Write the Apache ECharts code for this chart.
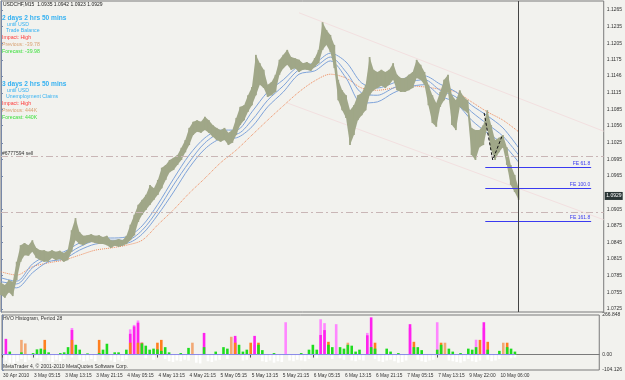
<!DOCTYPE html>
<html><head><meta charset="utf-8">
<script src="https://cdn.jsdelivr.net/npm/echarts@6/dist/echarts.min.js"></script>
<style>html,body{margin:0;padding:0;background:#f2f2ee;}#c{width:625px;height:380px;}</style>
</head><body><div id="c"></div><script>
// ---- data ----
const xLabels = ['30 Apr 2010','3 May 05:15','3 May 13:15','3 May 21:15','4 May 05:15','4 May 13:15','4 May 21:15','5 May 05:15','5 May 13:15','5 May 21:15','6 May 05:15','6 May 13:15','6 May 21:15','7 May 05:15','7 May 13:15','9 May 22:00','10 May 06:00'];
const priceTickLabels = ['1.1265','1.1235','1.1205','1.1175','1.1146','1.1115','1.1085','1.1056','1.1025','1.0995','1.0965','1.0905','1.0875','1.0845','1.0815','1.0785','1.0755','1.0725'];
const hvoTickValues = [266.848, 0, -104.126];
const hvoTickLabels = ['266.848', '0.00', '-104.126'];

const barHigh = [1.0772,1.0768,1.0777,1.0774,1.0810,1.0840,1.0844,1.0840,1.0849,1.0835,
1.0831,1.0831,1.0828,1.0831,1.0828,1.0830,1.0826,1.0831,1.0867,1.0889,
1.0864,1.0857,1.0858,1.0860,1.0857,1.0858,1.0855,1.0857,1.0849,1.0849,
1.0851,1.0849,1.0857,1.0877,1.0895,1.0913,1.0922,1.0931,1.0949,1.0943,
1.0958,1.0980,1.0985,1.0994,1.0998,1.1003,1.1016,1.1030,1.1052,1.1063,
1.1066,1.1063,1.1072,1.1066,1.1057,1.1052,1.1048,1.1052,1.1043,1.1048,
1.1070,1.1090,1.1093,1.1111,1.1126,1.1184,1.1169,1.1157,1.1130,1.1135,
1.1148,1.1175,1.1184,1.1193,1.1180,1.1178,1.1175,1.1169,1.1171,1.1167,
1.1178,1.1193,1.1243,1.1229,1.1220,1.1202,1.1139,1.1120,1.1111,1.1084,
1.1093,1.1111,1.1115,1.1130,1.1180,1.1157,1.1153,1.1157,1.1153,1.1157,
1.1169,1.1148,1.1142,1.1142,1.1148,1.1153,1.1175,1.1166,1.1153,1.1130,
1.1111,1.1097,1.1117,1.1139,1.1148,1.1111,1.1102,1.1120,1.1108,1.1102,
1.1052,1.1048,1.1048,1.1057,1.1084,1.1057,1.1030,1.1034,1.1039,1.1017,
1.0985,1.0967,1.0943];
const barLow = [1.0750,1.0745,1.0755,1.0748,1.0777,1.0810,1.0822,1.0821,1.0828,1.0817,
1.0813,1.0810,1.0810,1.0817,1.0813,1.0815,1.0810,1.0813,1.0828,1.0849,
1.0842,1.0840,1.0844,1.0846,1.0844,1.0842,1.0842,1.0840,1.0835,1.0839,
1.0837,1.0839,1.0842,1.0849,1.0858,1.0882,1.0895,1.0904,1.0913,1.0922,
1.0931,1.0943,1.0958,1.0972,1.0976,1.0985,1.0994,1.1008,1.1021,1.1039,
1.1045,1.1043,1.1048,1.1043,1.1036,1.1030,1.1027,1.1030,1.1021,1.1025,
1.1039,1.1057,1.1066,1.1081,1.1093,1.1111,1.1130,1.1124,1.1108,1.1111,
1.1117,1.1148,1.1160,1.1166,1.1157,1.1160,1.1153,1.1157,1.1157,1.1155,
1.1162,1.1169,1.1193,1.1202,1.1189,1.1160,1.1102,1.1084,1.1070,1.1021,
1.1039,1.1066,1.1075,1.1084,1.1111,1.1120,1.1124,1.1128,1.1124,1.1130,
1.1139,1.1120,1.1117,1.1117,1.1120,1.1124,1.1142,1.1139,1.1130,1.1093,
1.1061,1.1054,1.1090,1.1102,1.1117,1.1057,1.1048,1.1090,1.1084,1.1079,
1.1003,1.0994,1.1017,1.1021,1.1052,1.1012,1.0994,1.1008,1.1017,1.0985,
1.0949,1.0936,1.0922];

const maFast = [1.0781,1.0775,1.0806,1.0822,1.0828,1.0844,1.0853,1.0853,1.0855,1.0875,1.0914,1.0960,1.1003,1.1034,1.1048,1.1048,1.1081,1.1117,1.1139,1.1164,1.1169,1.1187,1.1171,1.1133,1.1124,1.1133,1.1144,1.1146,1.1131,1.1117,1.1093,1.1074,1.1052,1.1016];
const maMid = [1.0774,1.0770,1.0799,1.0817,1.0821,1.0837,1.0848,1.0849,1.0849,1.0867,1.0904,1.0949,1.0990,1.1025,1.1041,1.1041,1.1066,1.1102,1.1128,1.1157,1.1162,1.1180,1.1153,1.1115,1.1111,1.1124,1.1135,1.1139,1.1120,1.1108,1.1081,1.1059,1.1037,1.1003];
const maSlow = [1.0766,1.0763,1.0790,1.0810,1.0815,1.0831,1.0842,1.0844,1.0844,1.0860,1.0895,1.0936,1.0980,1.1014,1.1032,1.1034,1.1054,1.1090,1.1117,1.1149,1.1155,1.1173,1.1142,1.1097,1.1099,1.1115,1.1126,1.1130,1.1110,1.1097,1.1066,1.1043,1.1023,1.0990];
const maOrange = [1.0792,1.0786,1.0801,1.0808,1.0813,1.0822,1.0831,1.0835,1.0840,1.0849,1.0877,1.0904,1.0934,1.0961,1.0989,1.1012,1.1039,1.1066,1.1092,1.1117,1.1137,1.1149,1.1142,1.1124,1.1120,1.1124,1.1128,1.1126,1.1122,1.1117,1.1099,1.1081,1.1066,1.1045];

const channelUpper = [[76, 1.1260], [153.7, 1.1046]];
const channelLower = [[73, 1.1097], [153.7, 1.0886]];
const zigzag = [[123.2, 1.1079], [125.4, 1.0994], [127.7, 1.1036]];
const orderLevels = [1.0981, 1.0884];
const feLevels = [1.0981, 1.0943, 1.0884];
const feNames = ['FE 61.8', 'FE 100.0', 'FE 161.8'];
const feStart = 123.5, feEnd = 150.5;
const lastPrice = 1.0929;
const lastBarIdx = 132;

const hvoGreen = [[2,20],[5,15],[8,10],[9,35],[10,40],[11,33],[12,15],[15,10],[16,15],[17,50],[19,66],[20,33],[22,8],[25,10],[26,33],[27,73],[29,15],[30,15],[32,33],[36,75],[37,60],[38,33],[39,40],[40,35],[41,25],[42,50],[43,15],[46,10],[48,45],[52,50],[55,20],[57,50],[58,40],[61,66],[62,20],[63,33],[66,66],[67,30],[70,10],[77,10],[79,33],[80,66],[81,33],[84,66],[85,50],[87,50],[88,40],[89,66],[90,60],[91,20],[92,33],[95,50],[96,40],[99,40],[100,20],[102,10],[106,50],[107,50],[108,30],[112,33],[113,66],[115,40],[116,20],[118,10],[120,40],[121,33],[122,50],[125,33],[128,25],[130,50],[131,40],[132,20]];
const hvoOrange = [[11,99],[18,99],[25,99],[33,80],[35,80],[36,80],[40,80],[41,99],[60,80],[64,80],[66,80],[84,86],[96,80],[106,86],[113,80],[123,99],[125,86],[130,80]];
const hvoLightOrange = [[5,99],[6,75],[49,80],[59,120],[89,80],[114,80],[129,80]];
const hvoMagenta = [[1,106],[18,166],[33,140],[34,190],[35,215],[36,80],[52,146],[60,126],[65,126],[82,132],[83,165],[94,130],[95,251],[105,205],[124,218]];
const hvoLightMagenta = [[18,179],[33,170],[34,200],[35,230],[60,110],[65,66],[73,218],[82,238],[83,212],[86,205],[94,146],[105,180],[112,218],[122,100],[124,180]];
const hvoWhite = [[1,-40],[2,-55],[3,-60],[4,-45],[5,-30],[6,-50],[7,-35],[9,-25],[10,-45],[12,-40],[13,-50],[14,-35],[15,-45],[16,-30],[18,-20],[20,-35],[21,-45],[22,-40],[23,-30],[24,-45],[26,-35],[28,-40],[29,-50],[30,-35],[31,-45],[32,-30],[37,-25],[39,-35],[42,-30],[43,-45],[44,-50],[45,-40],[46,-45],[47,-35],[48,-40],[50,-55],[51,-60],[53,-45],[54,-50],[55,-40],[56,-35],[58,-30],[62,-40],[63,-35],[67,-45],[68,-50],[69,-40],[70,-55],[71,-45],[72,-50],[74,-40],[75,-45],[76,-35],[77,-40],[78,-45],[79,-30],[81,-25],[85,-30],[87,-25],[88,-35],[90,-40],[91,-45],[92,-35],[93,-40],[96,-30],[97,-45],[98,-50],[99,-40],[100,-35],[101,-45],[102,-55],[103,-50],[104,-40],[107,-35],[108,-45],[109,-50],[110,-40],[111,-35],[115,-40],[116,-45],[117,-50],[118,-55],[119,-45],[120,-30],[121,-45],[122,-50],[123,-40],[125,-35],[126,-45],[127,-40],[128,-30],[131,-25],[132,-20]];

const headerText = 'USDCHF,M15  1.0935 1.0942 1.0923 1.0929';
const newsBlocks = [
  ['2 days 2 hrs 50 mins', 'until USD', 'Trade Balance', 'Impact: High', 'Previous: -39.78', 'Forecast: -39.98'],
  ['3 days 2 hrs 50 mins', 'until USD', 'Unemployment Claims', 'Impact: High', 'Previous: 444K', 'Forecast: 440K']
];

// ---- chart ----
const FONT = '"Liberation Sans", Arial, sans-serif';
const xIdxMax = 153.7;
const xLabelIdx = xLabels.map((_, k) => k * 8);
const maIdx = maMid.map((_, k) => k * 4);
const toPairs = arr => arr.map((v, k) => [maIdx[k], v]);

const chart = echarts.init(document.getElementById('c'), null, {renderer: 'canvas'});

const candleData = barHigh.map((h, i) => [i, barLow[i], h]);
const BAR_COLOR = '#a0a788';

function maSeries(arr, color, type) {
  return {type: 'line', xAxisIndex: 0, yAxisIndex: 0, data: toPairs(arr), symbol: 'none', smooth: 0.3,
    lineStyle: {color: color, width: 1, type: type || 'solid'}, silent: true, z: 3};
}
function hvoSeries(arr, color, z) {
  return {type: 'bar', xAxisIndex: 1, yAxisIndex: 1, data: arr, barWidth: 2.6, barGap: '-100%',
    itemStyle: {color: color}, silent: true, z: z};
}

const graphics = [];
graphics.push({type: 'text', x: 3, y: 5, style: {text: headerText, fill: '#222', font: '5px ' + FONT, textVerticalAlign: 'middle'}});
const blockY = [18, 84];
const lineDy = [0, 6.5, 12.5, 19.5, 26.5, 33.5];
const lineColors = ['#36b2f2', '#36b2f2', '#36b2f2', '#ff3a3a', '#d9a274', '#3ee03e'];
const lineX = [2, 7, 6, 2, 2, 2];
newsBlocks.forEach((blk, b) => {
  blk.forEach((t, j) => {
    graphics.push({type: 'text', x: lineX[j], y: blockY[b] + lineDy[j], style: {
      text: t, fill: lineColors[j], textVerticalAlign: 'middle',
      font: j === 0 ? 'bold 6.6px ' + FONT : '5.2px ' + FONT}});
  });
});
graphics.push({type: 'text', x: 3, y: 319, style: {text: 'HVO Histogram, Period 28', fill: '#333', font: '5px ' + FONT, textVerticalAlign: 'middle'}});
graphics.push({type: 'text', x: 3, y: 367, style: {text: 'MetaTrader 4, \u00a9 2001-2010 MetaQuotes Software Corp.', fill: '#333', font: '5px ' + FONT, textVerticalAlign: 'middle'}});

const levelLines = [];
orderLevels.forEach((v, k) => {
  levelLines.push({yAxis: v, lineStyle: {color: '#c9b6b6', type: [7, 3, 2, 3], width: 1},
    label: k === 0 ? {show: true, position: 'insideStartTop', formatter: '#6777594 sell', color: '#333', fontSize: 5, fontFamily: FONT, distance: 1} : {show: false}});
});
feLevels.forEach((v, k) => {
  levelLines.push([{coord: [feStart, v]}, {coord: [feEnd, v],
    lineStyle: {color: '#3a3af0', width: 1, type: 'solid'},
    label: {show: true, position: 'insideEndTop', formatter: feNames[k], color: '#3a3af0', fontSize: 5, fontFamily: FONT, distance: 1}}]);
});
levelLines.push({xAxis: lastBarIdx, lineStyle: {color: '#444', width: 1, type: 'solid'}, label: {show: false}});

const option = {
  backgroundColor: '#f2f2ee',
  animation: false,
  graphic: graphics,
  grid: [
    {left: 1, right: 20, top: 1, height: 311, show: true, borderColor: '#7a7a7a', borderWidth: 1, backgroundColor: 'transparent'},
    {left: 1, right: 20, top: 315, height: 55, show: true, borderColor: '#7a7a7a', borderWidth: 1, backgroundColor: 'transparent'}
  ],
  xAxis: [
    {type: 'value', gridIndex: 0, min: 0, max: xIdxMax, axisLine: {show: false}, axisTick: {show: false}, axisLabel: {show: false}, splitLine: {show: false}},
    {type: 'value', gridIndex: 1, min: 0, max: xIdxMax, axisLine: {show: true, lineStyle: {color: '#7a7a7a'}},
      axisTick: {show: true, customValues: xLabelIdx, length: 3, lineStyle: {color: '#555'}},
      axisLabel: {show: true, customValues: xLabelIdx, formatter: v => xLabels[xLabelIdx.indexOf(Math.round(v))] || '',
        align: 'left', padding: [0, 0, 0, 1], fontSize: 4.8, fontFamily: FONT, color: '#333', margin: 3},
      splitLine: {show: false}}
  ],
  yAxis: [
    {type: 'value', gridIndex: 0, position: 'right', min: 1.07193, max: 1.12813, scale: true,
      axisLine: {show: true, lineStyle: {color: '#7888a8'}},
      axisTick: {show: true, customValues: priceTickLabels.map(Number), length: 2, lineStyle: {color: '#7888a8'}},
      axisLabel: {show: true, customValues: priceTickLabels.map(Number), formatter: v => v.toFixed(4), fontSize: 5, fontFamily: FONT, color: '#333', margin: 3},
      splitLine: {show: false}},
    {type: 'value', gridIndex: 1, position: 'right', min: -104.126, max: 266.848,
      axisLine: {show: true, lineStyle: {color: '#7888a8'}},
      axisTick: {show: true, customValues: hvoTickValues, length: 2, lineStyle: {color: '#7888a8'}},
      axisLabel: {show: true, customValues: hvoTickValues, formatter: v => {
        let k = 0, best = Infinity; hvoTickValues.forEach((t, j) => { if (Math.abs(t - v) < best) { best = Math.abs(t - v); k = j; } });
        return hvoTickLabels[k]; }, fontSize: 5, fontFamily: FONT, color: '#333', margin: 3},
      splitLine: {show: false}}
  ],
  series: [
    {type: 'line', xAxisIndex: 0, yAxisIndex: 0, data: channelUpper, symbol: 'none', lineStyle: {color: '#f2e0e0', width: 1}, silent: true, z: 1},
    {type: 'line', xAxisIndex: 0, yAxisIndex: 0, data: channelLower, symbol: 'none', lineStyle: {color: '#f2e0e0', width: 1}, silent: true, z: 1},
    {type: 'line', xAxisIndex: 0, yAxisIndex: 0, data: [], symbol: 'none', silent: true, z: 2,
      markLine: {silent: true, symbol: ['none', 'none'], animation: false, data: levelLines}},
    maSeries(maOrange, '#f08a5a', 'dotted'),
    {type: 'custom', xAxisIndex: 0, yAxisIndex: 0, data: candleData, encode: {x: 0, y: [1, 2]}, silent: true, z: 4,
      renderItem: (params, api) => {
        const i = params.dataIndex;
        const x = api.value(0);
        const lo = api.coord([x, api.value(1)]);
        const hi = api.coord([x, api.value(2)]);
        const children = [{type: 'rect', shape: {x: lo[0] - 0.9, y: hi[1], width: 1.8, height: Math.max(1, lo[1] - hi[1])},
          style: {fill: BAR_COLOR}}];
        if (i + 1 < barHigh.length) {
          const lo2 = api.coord([i + 1, barLow[i + 1]]);
          const hi2 = api.coord([i + 1, barHigh[i + 1]]);
          children.push({type: 'polygon', shape: {points: [[hi[0], hi[1]], [hi2[0], hi2[1]], [lo2[0], lo2[1]], [lo[0], lo[1]]]},
            style: {fill: BAR_COLOR}});
        }
        return {type: 'group', children: children};
      }},
    maSeries(maFast, '#7ea3da'),
    maSeries(maMid, '#7ea3da'),
    maSeries(maSlow, '#7ea3da'),
    {type: 'line', xAxisIndex: 0, yAxisIndex: 0, data: zigzag, symbol: 'none', lineStyle: {color: '#111', width: 1, type: [3, 2]}, silent: true, z: 5},
    hvoSeries(hvoWhite, '#ffffff', 2),
    hvoSeries(hvoLightMagenta, '#ff86ff', 3),
    hvoSeries(hvoMagenta, '#ff22ee', 4),
    hvoSeries(hvoLightOrange, '#f2a874', 5),
    hvoSeries(hvoOrange, '#ff7f1e', 6),
    hvoSeries(hvoGreen, '#1fdc1f', 7),
    {type: 'line', xAxisIndex: 1, yAxisIndex: 1, data: [[0, 0], [lastBarIdx, 0]], symbol: 'none', lineStyle: {color: '#8c8cec', width: 1}, silent: true, z: 8}
  ]
};
chart.setOption(option);

// current price tag on the price scale, positioned through the axis scale
const tagPt = chart.convertToPixel({xAxisIndex: 0, yAxisIndex: 0}, [xIdxMax, lastPrice]);
option.graphic = graphics.concat([
  {type: 'rect', shape: {x: tagPt[0] + 1, y: tagPt[1] - 4, width: 18, height: 8}, style: {fill: '#2a3535'}, z: 100},
  {type: 'text', x: tagPt[0] + 2.5, y: tagPt[1], style: {text: lastPrice.toFixed(4), fill: '#fff', font: '5px ' + FONT, textVerticalAlign: 'middle'}, z: 101}
]);
chart.setOption(option, true);
</script></body></html>
